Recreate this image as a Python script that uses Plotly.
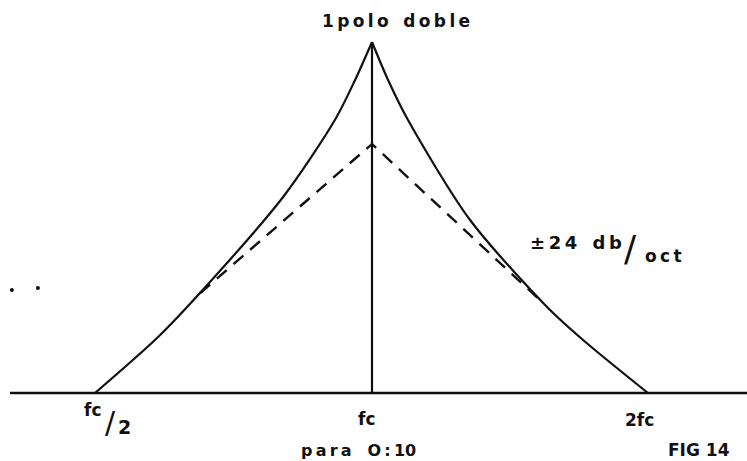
import plotly.graph_objects as go

# Frequency in octaves relative to fc (fc/2 = -1, fc = 0, 2fc = 1); level in relative units
solid_left_oct = [-1.0, -0.776, -0.621, -0.321, -0.134, -0.061, 0.0]
solid_left_lvl = [0, 55, 100, 196, 273, 313, 351]
solid_right_oct = [0.0, 0.058, 0.130, 0.354, 0.632, 0.762, 0.996]
solid_right_lvl = [351, 313, 273, 173, 86, 53, 0]
dash_oct = [-0.62, 0.0, 0.61]
dash_lvl = [100, 249, 92]
baseline_oct = [-1.307, 1.354]
baseline_lvl = [0, 0]
peak_oct = [0.0, 0.0]
peak_lvl = [0, 351]
noise_oct = [-1.300, -1.206]
noise_lvl = [103, 105]

W, H = 747, 461
black = "#111111"
fnt = "DejaVu Sans"

fig = go.Figure()
fig.add_trace(go.Scatter(x=baseline_oct, y=baseline_lvl, mode="lines",
                         line=dict(color=black, width=2.4), hoverinfo="skip"))
fig.add_trace(go.Scatter(x=peak_oct, y=peak_lvl, mode="lines",
                         line=dict(color=black, width=2.2), hoverinfo="skip"))
fig.add_trace(go.Scatter(x=solid_left_oct, y=solid_left_lvl, mode="lines",
                         line=dict(color=black, width=2.2, shape="spline", smoothing=0.8),
                         hoverinfo="skip"))
fig.add_trace(go.Scatter(x=solid_right_oct, y=solid_right_lvl, mode="lines",
                         line=dict(color=black, width=2.2, shape="spline", smoothing=0.8),
                         hoverinfo="skip"))
fig.add_trace(go.Scatter(x=dash_oct, y=dash_lvl, mode="lines",
                         line=dict(color=black, width=2.4, dash="13px,9px"),
                         hoverinfo="skip"))
fig.add_trace(go.Scatter(x=noise_oct, y=noise_lvl, mode="markers",
                         marker=dict(color=black, size=4), hoverinfo="skip"))

def px(x, y):
    return x / W, 1 - y / H

anns = [
    ("<b>1\u2009p\u2009o\u2009l\u2009o\u2002 d\u2009o\u2009b\u2009l\u2009e</b>", 396, 21, 17),
    ("<b>fc</b>", 92, 410, 17),
    ("/", 111, 422, 30),
    ("<b>2</b>", 124, 427, 19),
    ("<b>fc</b>", 366, 419, 17),
    ("<b>2fc</b>", 639, 420, 17),
    ("<b>±\u20092\u20094\u2002 d\u2009b</b>", 576, 242, 18),
    ("/", 630, 249, 36),
    ("<b>o\u2009c\u2009t</b>", 663, 256, 17),
    ("<b>p\u2009a\u2009r\u2009a\u2003O\u2009:\u200910</b>", 358, 450, 16),
    ("<b>FIG 14</b>", 699, 450, 17),
]
for t, x, y, s in anns:
    xp, yp = px(x, y)
    fig.add_annotation(text=t, x=xp, y=yp, xref="paper", yref="paper",
                       showarrow=False, xanchor="center", yanchor="middle",
                       font=dict(family=fnt, size=s, color=black))

x0 = (0 - 372) / 277
x1 = (W - 372) / 277
fig.update_layout(
    width=W, height=H, margin=dict(l=0, r=0, t=0, b=0),
    paper_bgcolor="white", plot_bgcolor="white", showlegend=False,
    xaxis=dict(range=[x0, x1], visible=False, fixedrange=True),
    yaxis=dict(range=[-68, 393], visible=False, fixedrange=True),
)
fig.write_html("out.html", config={"displayModeBar": False},
               post_script="document.body.style.margin='0';document.body.style.overflow='hidden';")
